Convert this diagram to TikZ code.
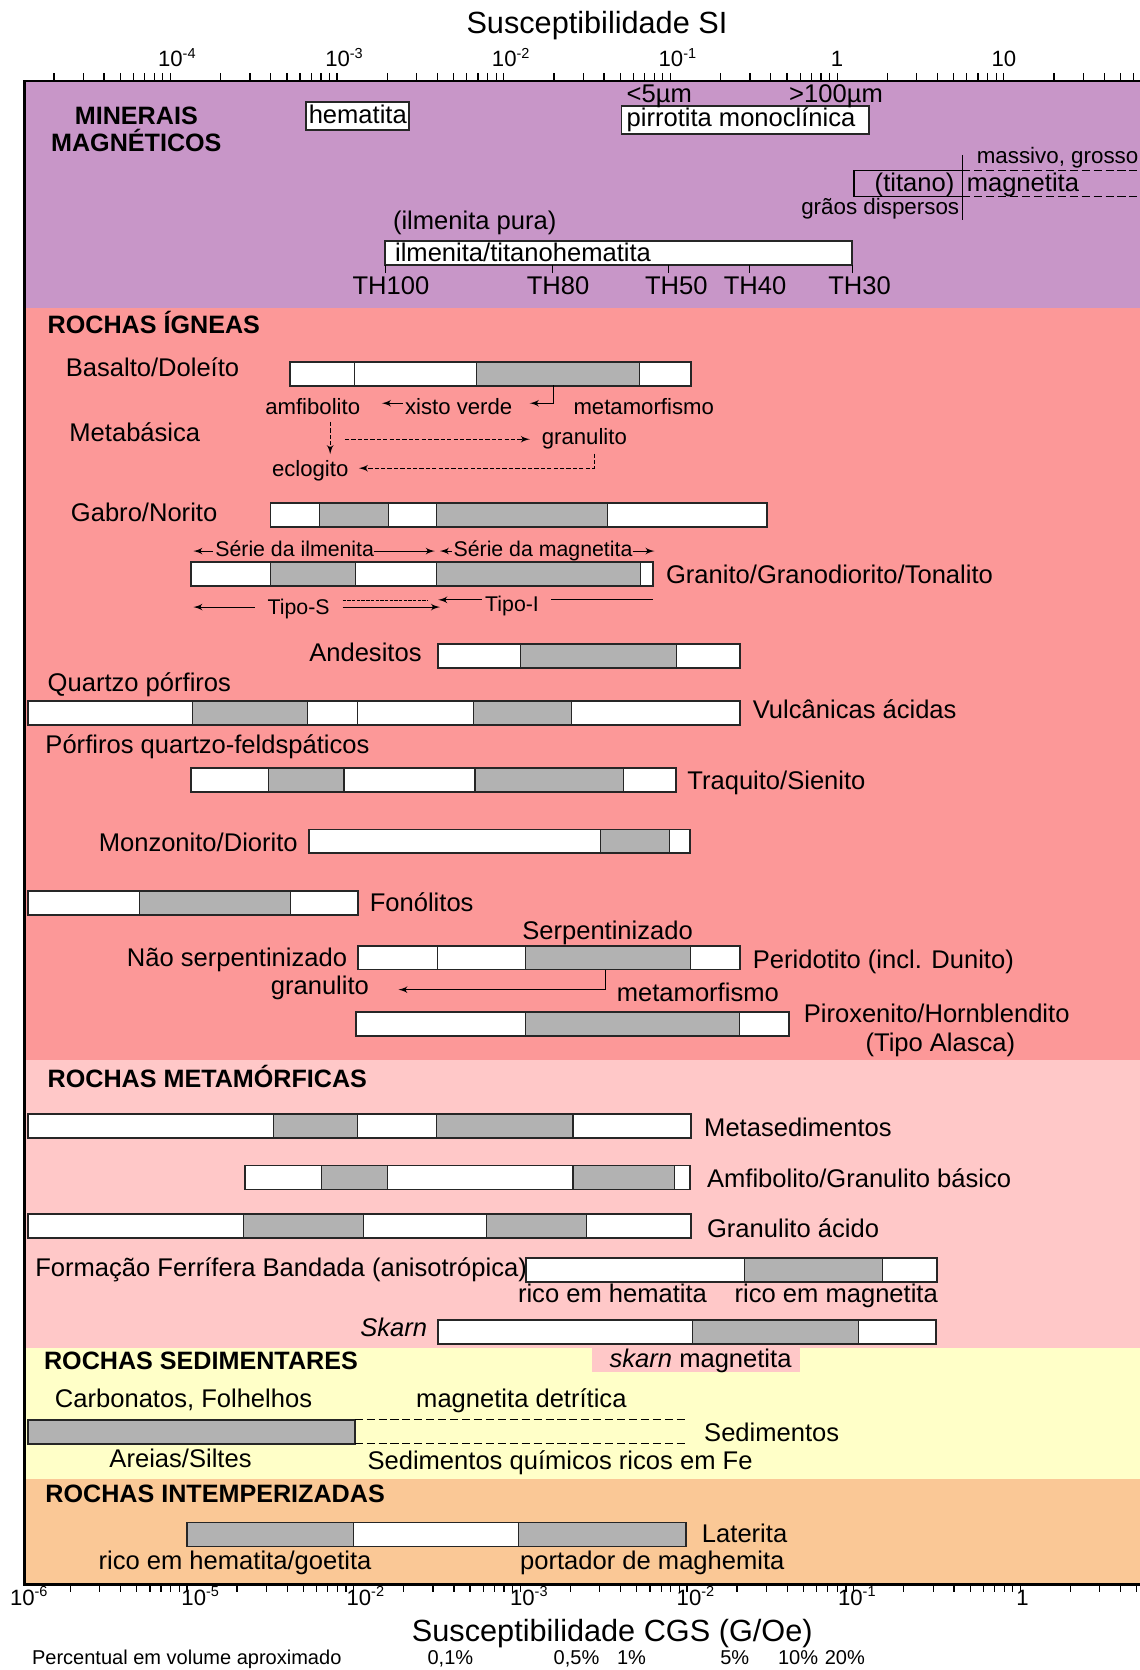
\documentclass[tikz,border=0pt]{standalone}
\usepackage{fontspec}
\setmainfont{Liberation Sans}
\usepackage{tikz}
\usetikzlibrary{positioning}
\usetikzlibrary{calc}
\usetikzlibrary{arrows}

\definecolor{minbg}{RGB}{200,150,200}
\definecolor{ignbg}{RGB}{252,152,152}
\definecolor{metbg}{RGB}{255,200,200}
\definecolor{sedbg}{RGB}{255,255,200}
\definecolor{intbg}{RGB}{250,200,150}
\definecolor{barg}{RGB}{178,178,178}

\newcommand{\tenp}[1]{10\raisebox{4pt}{\fontsize{6.8}{7}\selectfont#1}}
\newcommand{\rockbar}[4]{%
  \foreach \xa/\xb/\cf in {#4}{\draw[segl, fill=\cf] (\xa,#1) rectangle (\xb,#1+22.5);}
  \draw[seg] (#2,#1) rectangle (#3,#1+22.5);}

\begin{document}
\begin{tikzpicture}[
    x=0.5pt, y=-0.5pt,          % one unit = one pixel, y going down
    ]
% -------------------------------------------------
\tikzset{
  base/.style={inner sep=0pt, anchor=base west},
  txt/.style={base, font=\fontsize{12}{14}\selectfont, text height=8.7pt, text depth=2.5pt},
  txtr/.style={txt, anchor=base east},
  ann/.style={base, font=\fontsize{10.4}{12}\selectfont, text height=7.5pt, text depth=2.2pt},
  sml/.style={base, font=\fontsize{10}{12}\selectfont, text height=7.2pt, text depth=2.1pt},
  hdr/.style={base, font=\fontsize{11.8}{14}\selectfont\bfseries},
  axl/.style={base, font=\fontsize{10.4}{12}\selectfont},
  pctl/.style={base, anchor=base, font=\fontsize{9.4}{11}\selectfont},
  ttl/.style={base, font=\fontsize{14.4}{17}\selectfont},
  segl/.style={draw=black!85, line width=0.5pt},
  seg/.style={draw=black!85, line width=0.9pt},
  wbox/.style={draw=black!85, fill=white, line width=0.8pt},
  line/.style={draw, line width=0.5pt, -latex'},
  dline/.style={line, dash pattern=on 2pt off 1pt},
  ldash/.style={draw, line width=0.5pt, dash pattern=on 3.8pt off 1.8pt},
}
% -------------------------------------------------
\useasboundingbox (0,0) rectangle (1070,1568);

% colour bands
\fill[minbg] (23,76) rectangle (1070,289);
\fill[ignbg] (23,289) rectangle (1070,995);
\fill[metbg] (23,995) rectangle (1070,1266);
\fill[sedbg] (23,1266) rectangle (1070,1388.5);
\fill[intbg] (23,1388.5) rectangle (1070,1488);
\fill[metbg] (556,1265) rectangle (751,1288.5);

% axes and log ticks
\draw[line width=1.3pt] (1070,76) -- (23,76) -- (23,1488) -- (1070,1488);
\begin{scope}
\clip (23,0) rectangle (1070,1568);
\foreach \d in {-5,...,1}
  \foreach \k in {1,...,9}
    \draw[line width=0.6pt] ({786+156.5*(\d+log10(\k))},76) -- ++(0,-7);
\foreach \d in {-6,...,0}
  \foreach \k in {1,...,9}
    \draw[line width=0.6pt] ({958+156.5*(\d+log10(\k))},1488) -- ++(0,7);
\end{scope}

\node[ttl, anchor=base] (tsi) at (560.5,31) {Susceptibilidade SI};
\node[axl] (si4) at (148,62.5) {\tenp{-4}};
\node[axl] (si3) at (305,62.5) {\tenp{-3}};
\node[axl] (si2) at (461.5,62.5) {\tenp{-2}};
\node[axl] (si1) at (618,62.5) {\tenp{-1}};
\node[axl, anchor=base] (si0) at (786,62.5) {1};
\node[axl, anchor=base] (sip) at (942.5,62.5) {10};

\node[axl] (cg6) at (9,1507) {\tenp{-6}};
\node[axl] (cg5) at (170,1507) {\tenp{-5}};
\node[axl] (cg4) at (325,1507) {\tenp{-2}};
\node[axl] (cg3) at (478.5,1507) {\tenp{-3}};
\node[axl] (cg2) at (635,1507) {\tenp{-2}};
\node[axl] (cg1) at (786.5,1507) {\tenp{-1}};
\node[axl, anchor=base] (cg0) at (960,1507) {1};
\node[ttl] (tcgs) at (386.4,1541) {Susceptibilidade CGS (G/Oe)};

\node[pctl, anchor=base west] (pct) at (29.7,1563) {Percentual em volume aproximado};
\foreach \px/\pv [count=\i] in {422.9/{0,1\%}, 541.3/{0,5\%}, 592.9/{1\%},
    689.9/{5\%}, 749.3/{10\%}, 793.2/{20\%}}
  \node[pctl] (pc\i) at (\px,1563) {\pv};

% -------------------------------------------------
% minerais magneticos
\node[hdr, anchor=base] (mi) at (128,117) {MINERAIS};
\node[hdr, anchor=base] (mg) at (128,142.4) {MAGNÉTICOS};

\draw[wbox] (287,95.5) rectangle (384,122);
\node[txt] (hem) at (289.5,115.8) {hematita};

\draw[wbox] (583.6,99.5) rectangle (815.7,125.8);
\node[txt] (pir) at (588,118.9) {pirrotita monoclínica};
\node[txt] (p5) at (588,96.5) {<5µm};
\node[txt] (p100) at (740.6,96.5) {>100µm};

\draw[line width=0.6pt] (801.9,160.2) rectangle (903.6,184.6);
\draw[line width=0.5pt] (903.6,145.5) -- (903.6,206.5);
\draw[ldash] (903.6,160.2) -- (1070,160.2);
\draw[ldash] (903.6,184.6) -- (1070,184.6);
\node[sml, font=\fontsize{10.5}{12}\selectfont] (mas) at (916.7,153.9) {massivo, grosso};
\node[txtr] (tit) at (896.4,180) {(titano)};
\node[txt] (mgt) at (907.3,180) {magnetita};
\node[sml, anchor=base east, font=\fontsize{10.5}{12}\selectfont] (gds) at (901,201.8) {grãos dispersos};

\node[txt] (ilp) at (368.6,215.9) {(ilmenita pura)};
\draw[wbox] (361.8,226) rectangle (800,248.7);
\node[txt] (ilt) at (370.6,245.6) {ilmenita/titanohematita};
\foreach \tx/\lx/\th in {362/367/100, 519/524/80, 628/635/50, 704/709/40, 800/807/30}{
  \draw[line width=0.5pt] (\tx,248.7) -- (\tx,256);
  \node[txt, anchor=base] (th\th) at (\lx,276.9) {TH\th};
}

% -------------------------------------------------
% rochas igneas
\node[hdr] (ign) at (44.4,312.9) {ROCHAS ÍGNEAS};

\node[txt] (bas) at (61.4,353.5) {Basalto/Doleíto};
\rockbar{339.5}{272}{649}{272/333/white, 333/447/white, 447/600/barg, 600/649/white}

\node[ann] (amf) at (248.7,389.5) {amfibolito};
\node[ann] (xv) at (380,389.5) {xisto verde};
\node[ann] (mt1) at (538.1,389.5) {metamorfismo};
\node[txt] (mtb) at (64.8,414.6) {Metabásica};
\node[ann] (gr1) at (508.4,417.7) {granulito};
\node[ann] (ecl) at (255,447.4) {eclogito};
\coordinate (bm) at (520,361.5);

\draw[line] (bm) |- ([xshift=8pt,yshift=2.8pt]xv.east);
\draw[line] ([xshift=-0.7pt,yshift=2.8pt]xv.west) -- ([xshift=10pt,yshift=2.8pt]amf.east);
\draw[dline] ([xshift=8.2pt,yshift=-0.95pt]amf.south) coordinate (av) -- ($(av |- ecl.north)+(0,-5.5)$);
\draw[dline] ($(gr1.west)+(-184.6,0)$) -- ($(gr1.west)+(-10.9,0)$);
\draw[dline] ([xshift=4.7pt,yshift=-1.7pt]gr1.south) |- ([xshift=4.7pt,yshift=1.25pt]ecl.east);

\node[txt] (gab) at (66.2,489.6) {Gabro/Norito};
\rockbar{472.4}{254}{720}{254/300/white, 300/365/barg, 365/410/white, 410/570/barg, 570/720/white}

\node[sml] (sil) at (201.8,522.5) {Série da ilmenita};
\node[sml] (smg) at (425.5,522.5) {Série da magnetita};
\draw[line] ([xshift=-1pt]sil.west) -- ([xshift=-10.15pt]sil.west);
\draw[line] (sil.east) -- ([xshift=-8.6pt]smg.west);
\draw[line] ([xshift=-0.5pt]smg.west) -- ([xshift=-6.3pt]smg.west);
\draw[line] (smg.east) -- ([xshift=10.2pt]smg.east);

\rockbar{528}{179}{613}{179/254/white, 254/334/barg, 334/410/white, 410/601/barg, 601/613/white}
\node[txt] (gra) at (625,548) {Granito/Granodiorito/Tonalito};

\node[sml] (ts) at (250.9,577.2) {Tipo-S};
\node[sml] (ti) at (455.2,574.1) {Tipo-I};
\draw[line] ([xshift=-5.8pt,yshift=1.05pt]ts.west) -- ([xshift=-34.7pt,yshift=1.05pt]ts.west);
\draw[line] ([xshift=5.95pt,yshift=1.05pt]ts.east) -- ++(91.4,0);
\draw[line width=0.5pt, dash pattern=on 1.6pt off 0.6pt] ([xshift=5.95pt,yshift=4pt]ts.east) -- ++(80.4,0);
\draw[line] ([xshift=-1.55pt,yshift=2.9pt]ti.west) -- ++(-40.7,0);
\draw[line width=0.5pt] ([xshift=5.5pt,yshift=2.9pt]ti.east) -- ++(95.4,0);

\node[txt] (and) at (290,621) {Andesitos};
\rockbar{605}{411}{695}{411/489/white, 489/635/barg, 635/695/white}

\node[txt] (qpf) at (44.4,649.2) {Quartzo pórfiros};
\rockbar{658.6}{26}{695}{26/181/white, 181/289/barg, 289/336/white, 336/445/white, 445/537/barg, 537/695/white}
\node[txt] (vac) at (706.5,674.2) {Vulcânicas ácidas};

\node[txt] (pqf) at (42.3,707.1) {Pórfiros quartzo-feldspáticos};
\rockbar{721.5}{179}{635}{179/252/white, 252/323/barg, 323/446/white, 446/585/barg, 585/635/white}
\node[txt] (trq) at (645,741.5) {Traquito/Sienito};

\node[txtr] (mzd) at (279.9,799.4) {Monzonito/Diorito};
\rockbar{778.8}{290}{648}{290/564/white, 564/629/barg, 629/648/white}

\rockbar{836.5}{26}{336}{26/131/white, 131/273/barg, 273/336/white}
\node[txt] (fon) at (346.8,855.7) {Fonólitos};

\node[txt] (spz) at (490,881.7) {Serpentinizado};
\node[txtr] (nsp) at (326.3,907.3) {Não serpentinizado};
\rockbar{887.8}{336}{695}{336/411/white, 411/493/white, 493/648/barg, 648/695/white}
\node[txt] (per) at (706.5,908.9) {Peridotito (incl. Dunito)};
\node[txtr] (gr2) at (346.8,933.9) {granulito};
\node[txt] (mt2) at (578.8,940.2) {metamorfismo};
\coordinate (pm) at (568.6,910.5);
\draw[line] (pm) |- ([xshift=13.6pt,yshift=-0.75pt]gr2.east);

\rockbar{949.8}{334}{741}{334/493/white, 493/694/barg, 694/741/white}
\node[txt] (pxh) at (754.3,960.5) {Piroxenito/Hornblendito};
\node[txt] (tal) at (812.3,987.1) {(Tipo Alasca)};

% -------------------------------------------------
% rochas metamorficas
\node[hdr] (met) at (44.4,1020.6) {ROCHAS METAMÓRFICAS};

\rockbar{1045.8}{26}{649}{26/257/white, 257/336/barg, 336/410/white, 410/538/barg, 538/649/white}
\node[txt] (msd) at (660.8,1067.5) {Metasedimentos};

\rockbar{1094.3}{230}{648}{230/302/white, 302/364/barg, 364/538/white, 538/633/barg, 633/648/white}
\node[txt] (agb) at (663.5,1115.4) {Amfibolito/Granulito básico};

\rockbar{1140.2}{26}{649}{26/229/white, 229/341/barg, 341/457/white, 457/551/barg, 551/649/white}
\node[txt] (gac) at (663.5,1162.3) {Granulito ácido};

\node[txt] (ffb) at (32.8,1198.3) {Formação Ferrífera Bandada (anisotrópica)};
\rockbar{1181.2}{494}{880}{494/699/white, 699/829/barg, 829/880/white}
\node[txt] (rhe) at (486,1223.3) {rico em hematita};
\node[txt] (rmg) at (689.4,1223.3) {rico em magnetita};

\node[txtr] (skn) at (401.4,1254.6) {\itshape Skarn};
\rockbar{1239.2}{411}{879}{411/650/white, 650/806/barg, 806/879/white}

% -------------------------------------------------
% rochas sedimentares
\node[hdr] (sed) at (41,1285.9) {ROCHAS SEDIMENTARES};
\node[txt] (skm) at (572,1284.3) {{\itshape skarn} magnetita};

\node[txt] (cfo) at (51.2,1321.9) {Carbonatos, Folhelhos};
\node[txt] (mdt) at (390.4,1321.9) {magnetita detrítica};
\rockbar{1333}{26}{333}{26/333/barg}
\draw[ldash] (333,1333) -- (644,1333);
\draw[ldash] (333,1355.5) -- (644,1355.5);
\node[txt] (sdm) at (660.8,1353.2) {Sedimentos};
\node[txt] (ars) at (102.4,1378.2) {Areias/Siltes};
\node[txt] (sqf) at (344.7,1379.8) {Sedimentos químicos ricos em Fe};

% -------------------------------------------------
% rochas intemperizadas
\node[hdr] (itp) at (42.3,1411) {ROCHAS INTEMPERIZADAS};
\rockbar{1429.5}{176}{644}{176/332/barg, 332/487/white, 487/644/barg}
\node[txt] (lat) at (658.7,1448) {Laterita};
\node[txt] (rhg) at (92.2,1473.6) {rico em hematita/goetita};
\node[txt] (pmh) at (488,1473.6) {portador de maghemita};

\end{tikzpicture}
\end{document}
